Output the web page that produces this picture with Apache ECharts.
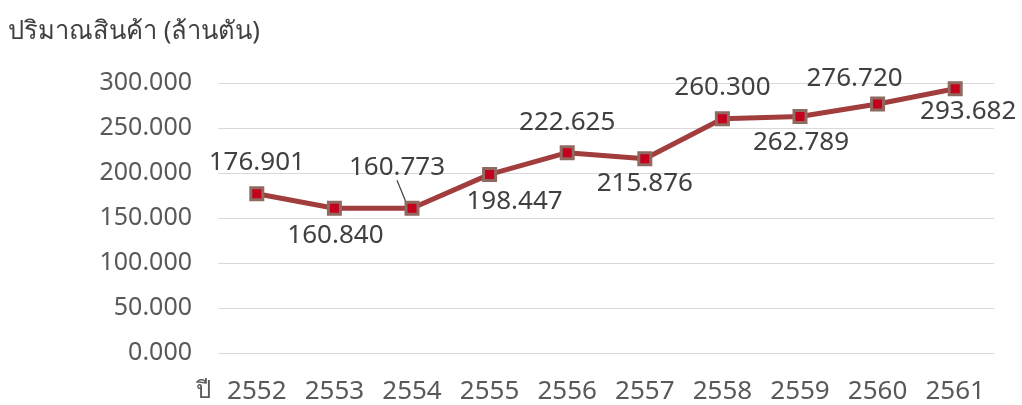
<!DOCTYPE html>
<html>
<head>
<meta charset="utf-8">
<script src="https://cdn.jsdelivr.net/npm/echarts@6/dist/echarts.min.js"></script>
<style>
  html, body { margin: 0; padding: 0; background: #ffffff; }
  #chart { width: 1022px; height: 405px; }
</style>
</head>
<body>
<div id="chart"></div>
<script>
// Freight volume by year (million tonnes)
const years = ['2552', '2553', '2554', '2555', '2556', '2557', '2558', '2559', '2560', '2561'];
const volumes = [176.901, 160.840, 160.773, 198.447, 222.625, 215.876, 260.300, 262.789, 276.720, 293.682];
const yTicks = { min: 0, max: 300, step: 50 };

const FONT = '"Noto Sans", "Open Sans", sans-serif';

// label placement around each point: [dx, dy] from the marker centre
const labelShift = [
  [0, -31], [1, 27], [-15, -41], [25, 27], [0, -30],
  [0, 25], [0, -31], [1, 26], [-23, -25], [13, 23]
];
// points whose label gets a leader line back to the marker
const withLeader = [2];

const seriesData = volumes.map((v, i) => ({
  value: v,
  labelLine: { show: withLeader.includes(i) }
}));

const chart = echarts.init(document.getElementById('chart'), null, { renderer: 'canvas' });

chart.setOption({
  backgroundColor: '#ffffff',
  animation: false,
  title: {
    text: 'ปริมาณสินค้า (ล้านตัน)',
    left: 8,
    top: 19,
    padding: 0,
    textStyle: { fontFamily: FONT, fontSize: 25.5, fontWeight: 'normal', color: '#404040' }
  },
  grid: { left: 218, right: 28, top: 83, bottom: 52, containLabel: false },
  xAxis: {
    type: 'category',
    data: years,
    boundaryGap: true,
    name: 'ปี',
    nameLocation: 'start',
    nameGap: 7,
    nameTextStyle: {
      fontFamily: FONT, fontSize: 24, color: '#595959',
      verticalAlign: 'top', padding: [26, 0, 0, 0]
    },
    axisLine: { show: false },
    axisTick: { show: false },
    axisLabel: { fontFamily: FONT, fontSize: 26, color: '#595959', margin: 26 }
  },
  yAxis: {
    type: 'value',
    min: yTicks.min,
    max: yTicks.max,
    interval: yTicks.step,
    axisLine: { show: false },
    axisTick: { show: false },
    splitLine: { lineStyle: { color: '#d9d9d9', width: 1 } },
    axisLabel: {
      fontFamily: FONT, fontSize: 25, color: '#595959', margin: 26,
      formatter: v => v.toFixed(3)
    }
  },
  series: [{
    type: 'line',
    data: seriesData,
    symbol: 'rect',
    symbolSize: 12,
    lineStyle: { color: '#a13e3d', width: 5 },
    itemStyle: { color: '#c4001c', borderColor: '#8f6a60', borderWidth: 3 },
    label: {
      show: true,
      position: 'inside',
      fontFamily: FONT,
      fontSize: 26,
      color: '#404040',
      formatter: p => p.value.toFixed(3)
    },
    labelLine: { show: false, lineStyle: { color: '#404040', width: 1.2 } },
    labelLayout: p => ({ dx: labelShift[p.dataIndex][0], dy: labelShift[p.dataIndex][1] })
  }]
});
</script>
</body>
</html>
